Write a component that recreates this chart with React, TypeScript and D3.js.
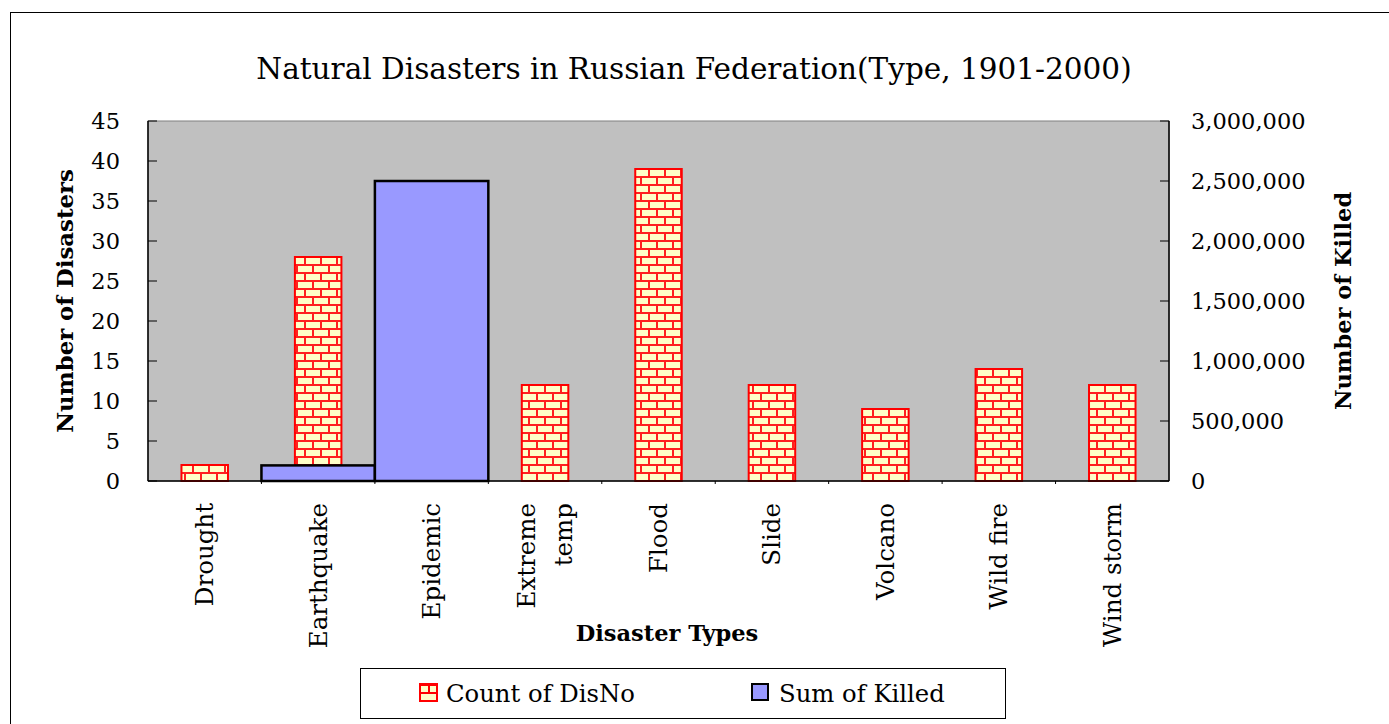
import React from "react";
import * as d3 from "d3";

const categories = ["Drought", "Earthquake", "Epidemic", "Extreme\ntemp", "Flood", "Slide", "Volcano", "Wild fire", "Wind storm"];
const disasterCounts = [2, 28, 0, 12, 39, 12, 9, 14, 12];
const killedSums = [null, 130000, 2500000, null, null, null, null, null, null];
const leftTicks = [0, 5, 10, 15, 20, 25, 30, 35, 40, 45];
const rightTicks = [0, 500000, 1000000, 1500000, 2000000, 2500000, 3000000];

const W = 1389;
const H = 724;
const plot = { left: 148, right: 1169, top: 121, bottom: 481 };
const FONT = "'DejaVu Serif', serif";

export default function App() {
  const x = d3.scaleBand().domain(categories).range([plot.left, plot.right]).padding(0);
  const yLeft = d3.scaleLinear().domain([0, 45]).range([plot.bottom, plot.top]);
  const yRight = d3.scaleLinear().domain([0, 3000000]).range([plot.bottom, plot.top]);
  const fmt = d3.format(",");
  const bw = x.bandwidth();
  const countW = bw * 0.41;

  return (
    <svg width={W} height={H} style={{ position: "fixed", left: 0, top: 0, background: "#fff" }} fontFamily={FONT}>
      <defs>
        <pattern id="brick" width="16" height="16" patternUnits="userSpaceOnUse">
          <rect width="16" height="16" fill="#FFFFC8" />
          <rect x="0" y="0" width="16" height="2" fill="#FF2020" />
          <rect x="0" y="8" width="16" height="2" fill="#FF2020" />
          <rect x="0" y="0" width="2" height="8" fill="#FF2020" />
          <rect x="8" y="8" width="2" height="8" fill="#FF2020" />
        </pattern>
        <pattern id="brickBig" x="420" y="684" width="18" height="18" patternUnits="userSpaceOnUse">
          <rect width="18" height="18" fill="#FFFFC8" />
          <rect x="0" y="0" width="18" height="2" fill="#FF0000" />
          <rect x="0" y="8" width="18" height="2" fill="#FF0000" />
          <rect x="8" y="0" width="2" height="9" fill="#FF0000" />
        </pattern>
      </defs>

      {/* outer chart frame */}
      <rect x={10.5} y={12.5} width={1400} height={800} fill="#fff" stroke="#000" strokeWidth={1} />

      {/* title */}
      <text x={694} y={79} textAnchor="middle" fontSize={29.5} fill="#000">
        Natural Disasters in Russian Federation(Type, 1901-2000)
      </text>

      {/* plot area */}
      <rect x={plot.left} y={plot.top} width={plot.right - plot.left} height={plot.bottom - plot.top} fill="#C0C0C0" stroke="#808080" strokeWidth={1} />

      {/* count bars */}
      {categories.map((c, i) => {
        const v = disasterCounts[i];
        if (!v) return null;
        const cx = (x(c) as number) + bw / 2;
        return (
          <rect key={"cnt" + i} x={cx - countW / 2} y={yLeft(v)} width={countW} height={yLeft(0) - yLeft(v)}
            fill="url(#brick)" stroke="#FF0000" strokeWidth={2} />
        );
      })}

      {/* killed bars on secondary axis */}
      {categories.map((c, i) => {
        const v = killedSums[i];
        if (v == null) return null;
        return (
          <rect key={"kil" + i} x={x(c) as number} y={yRight(v)} width={bw} height={yRight(0) - yRight(v)}
            fill="#9999FF" stroke="#000" strokeWidth={2.5} />
        );
      })}

      {/* axes lines */}
      <line x1={plot.left} x2={plot.left} y1={plot.top} y2={plot.bottom} stroke="#000" strokeWidth={1.5} />
      <line x1={plot.right} x2={plot.right} y1={plot.top} y2={plot.bottom} stroke="#000" strokeWidth={1.5} />
      <line x1={plot.left} x2={plot.right} y1={plot.bottom} y2={plot.bottom} stroke="#000" strokeWidth={1.5} />

      {/* left ticks */}
      {leftTicks.map((t) => (
        <g key={"lt" + t}>
          <line x1={plot.left} x2={plot.left + 9} y1={yLeft(t)} y2={yLeft(t)} stroke="#000" strokeWidth={1} />
          <text x={120} y={yLeft(t)} textAnchor="end" dominantBaseline="central" fontSize={22.5}>{t}</text>
        </g>
      ))}

      {/* right ticks */}
      {rightTicks.map((t) => (
        <g key={"rt" + t}>
          <line x1={plot.right - 9} x2={plot.right} y1={yRight(t)} y2={yRight(t)} stroke="#000" strokeWidth={1} />
          <text x={1191} y={yRight(t)} textAnchor="start" dominantBaseline="central" fontSize={22.5}>{fmt(t)}</text>
        </g>
      ))}

      {/* category boundary ticks */}
      {categories.slice(1).map((c) => (
        <line key={"bt" + c} x1={x(c) as number} x2={x(c) as number} y1={plot.bottom} y2={plot.bottom + 3} stroke="#000" strokeWidth={1} />
      ))}

      {/* category labels */}
      {categories.map((c) => {
        const cx = (x(c) as number) + bw / 2;
        const lines = c.split("\n");
        return lines.map((ln, j) => {
          const off = (j - (lines.length - 1) / 2) * 37;
          return (
            <text key={c + j} transform={`translate(${cx + off},503) rotate(-90)`} textAnchor="end" dominantBaseline="central" fontSize={24.5}>
              {ln}
            </text>
          );
        });
      })}

      {/* axis titles */}
      <text transform={`translate(65,301) rotate(-90)`} textAnchor="middle" dominantBaseline="central" fontSize={22.8} fontWeight="bold">
        Number of Disasters
      </text>
      <text transform={`translate(1343,301) rotate(-90)`} textAnchor="middle" dominantBaseline="central" fontSize={22.5} fontWeight="bold">
        Number of Killed
      </text>
      <text x={667} y={641} textAnchor="middle" fontSize={22.5} fontWeight="bold">
        Disaster Types
      </text>

      {/* legend */}
      <rect x={360.5} y={668.5} width={645} height={50} fill="#fff" stroke="#000" strokeWidth={1} />
      <rect x={420} y={684} width={17} height={17} fill="url(#brickBig)" stroke="#FF0000" strokeWidth={2} />
      <text x={446} y={693} dominantBaseline="central" fontSize={24.3}>Count of DisNo</text>
      <rect x={752} y={684} width={16} height={16} fill="#9999FF" stroke="#000" strokeWidth={2} />
      <text x={779} y={693} dominantBaseline="central" fontSize={24.3}>Sum of Killed</text>
    </svg>
  );
}
